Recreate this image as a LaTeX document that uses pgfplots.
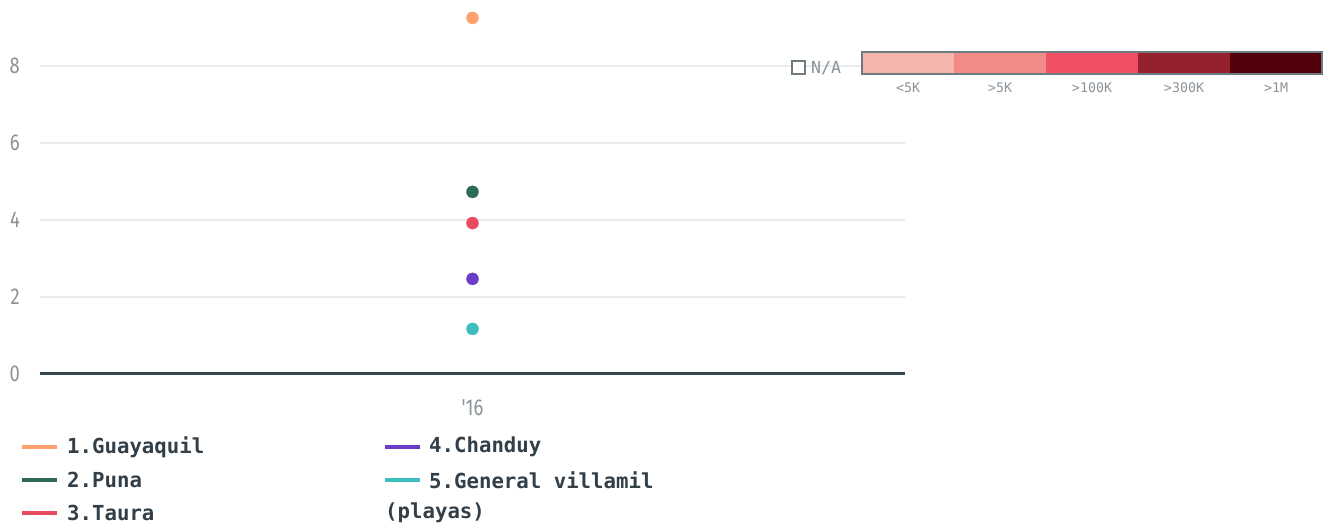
\documentclass[border=0pt]{standalone}
\usepackage{pgfplots}
\pgfplotsset{compat=1.18}
\usepackage{fontspec}
\setmainfont{Fira Sans}
\newfontfamily\tickfont[FakeStretch=0.8]{Fira Sans}
\newfontfamily\monofont{DejaVu Sans Mono}
\definecolor{cGuay}{HTML}{FFA06E}
\definecolor{cPuna}{HTML}{2E6B55}
\definecolor{cTaura}{HTML}{E84A5F}
\definecolor{cChan}{HTML}{6A3CC8}
\definecolor{cGen}{HTML}{3DBFBF}
\definecolor{txtdark}{HTML}{333F48}
\definecolor{tickgray}{HTML}{8A9399}
\definecolor{gridc}{HTML}{EAEAEA}
\definecolor{zeroc}{HTML}{37474F}
\definecolor{s1}{HTML}{F4B6AC}
\definecolor{s2}{HTML}{F28A88}
\definecolor{s3}{HTML}{F05064}
\definecolor{s4}{HTML}{95212F}
\definecolor{s5}{HTML}{52000B}
\definecolor{boxgray}{HTML}{6E7B80}
\begin{document}
\begin{tikzpicture}
\useasboundingbox (0,0) rectangle (1330pt,529pt);
\begin{axis}[
  at={(40pt,155pt)}, anchor=south west,
  scale only axis, width=865pt, height=374pt,
  xmin=-1, xmax=1, ymin=0, ymax=9.714,
  clip=false,
  axis line style={draw=none},
  major tick length=0pt,
  ytick={2,4,6,8},
  extra y ticks={0},
  extra y tick style={grid style={line width=3pt, color=zeroc}},
  ymajorgrids,
  grid style={line width=1.5pt, color=gridc},
  xtick={0}, xticklabels={'16},
  /pgf/number format/assume math mode=true,
  yticklabel style={font=\tickfont\fontsize{23}{23}\selectfont, text=tickgray, anchor=east, inner sep=0pt, xshift=-20pt},
  xticklabel style={font=\tickfont\fontsize{23}{23}\selectfont, text=tickgray, anchor=north, inner sep=0pt, yshift=-25pt},
]
\addplot[only marks, mark=*, mark size=6pt, color=cGuay] coordinates {(0,9.25)};
\addplot[only marks, mark=*, mark size=6pt, color=cPuna] coordinates {(0,4.73)};
\addplot[only marks, mark=*, mark size=6pt, color=cTaura] coordinates {(0,3.92)};
\addplot[only marks, mark=*, mark size=6pt, color=cChan] coordinates {(0,2.47)};
\addplot[only marks, mark=*, mark size=6pt, color=cGen] coordinates {(0,1.17)};
\end{axis}
% legend
\begin{scope}[every node/.style={anchor=west, inner sep=0pt, text=txtdark, font=\monofont\bfseries\fontsize{20.7}{22}\selectfont}]
\draw[cGuay, line width=4pt] (22pt,82pt) -- (57pt,82pt);
\node at (67pt,82pt) {1.Guayaquil};
\draw[cPuna, line width=4pt] (22pt,49pt) -- (57pt,49pt);
\node at (67pt,49pt) {2.Puna};
\draw[cTaura, line width=4pt] (22pt,16pt) -- (57pt,16pt);
\node at (67pt,16pt) {3.Taura};
\draw[cChan, line width=4pt] (385pt,82pt) -- (420pt,82pt);
\node at (429pt,82pt) {4.Chanduy};
\draw[cGen, line width=4pt] (385pt,49pt) -- (420pt,49pt);
\node at (429pt,49pt) {5.General villamil};
\node at (385pt,16pt) {(playas)};
\end{scope}
% colour scale
\fill[s1] (862pt,455pt) rectangle (954pt,477pt);
\fill[s2] (954pt,455pt) rectangle (1046pt,477pt);
\fill[s3] (1046pt,455pt) rectangle (1138pt,477pt);
\fill[s4] (1138pt,455pt) rectangle (1230pt,477pt);
\fill[s5] (1230pt,455pt) rectangle (1322pt,477pt);
\draw[boxgray, line width=1.2pt] (862pt,455pt) rectangle (1322pt,477pt);
\begin{scope}[every node/.style={inner sep=0pt, text=tickgray, font=\monofont\fontsize{13.3}{14}\selectfont}]
\node at (908pt,441pt) {<5K};
\node at (1000pt,441pt) {>5K};
\node at (1092pt,441pt) {>100K};
\node at (1184pt,441pt) {>300K};
\node at (1276pt,441pt) {>1M};
\end{scope}
\draw[boxgray, line width=1.2pt, fill=white] (792pt,455pt) rectangle (805pt,468pt);
\node[anchor=west, inner sep=0pt, text=tickgray, font=\monofont\fontsize{16.6}{17}\selectfont] at (811pt,461pt) {N/A};
\end{tikzpicture}
\end{document}
